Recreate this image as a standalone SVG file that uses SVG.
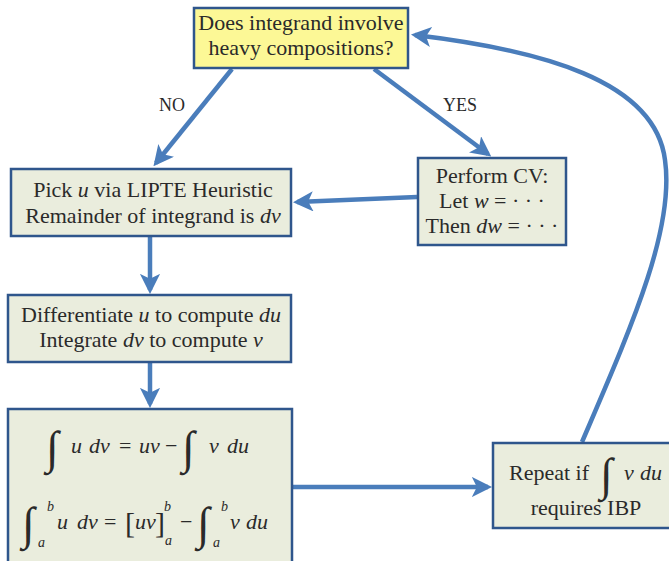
<svg xmlns="http://www.w3.org/2000/svg" width="669" height="561" viewBox="0 0 669 561">
<style>
text{font-family:"Liberation Serif","DejaVu Serif",serif;font-size:22px;fill:#2a2a2a;}
.c{text-anchor:middle;}
.i{font-style:italic;}
.box{fill:#eaeddd;stroke:#2f568c;stroke-width:2.5;}
.q{fill:#fcf896;stroke:#2f568c;stroke-width:2.5;}
.e{fill:none;stroke:#4a7dbb;stroke-width:4.5;}
.lbl{font-size:18px;}
.int{font-size:46px;font-style:italic;}
.lim{font-size:14px;font-style:italic;}
.br{font-size:30px;}
</style>
<defs>
<marker id="ah" viewBox="0 0 10 10" refX="8" refY="5" markerWidth="4.5" markerHeight="4.5" orient="auto" markerUnits="strokeWidth">
<path d="M0,0 L10,5 L0,10 L2.5,5 Z" fill="#4a7dbb"/>
</marker>
</defs>
<g id="connectors">
<path class="e" d="M232,69 L156,163" marker-end="url(#ah)"/>
<path class="e" d="M374,69 L488,154" marker-end="url(#ah)"/>
<path class="e" d="M417,197 L297,202" marker-end="url(#ah)"/>
<path class="e" d="M150,237 L150,290" marker-end="url(#ah)"/>
<path class="e" d="M150,363 L150,404" marker-end="url(#ah)"/>
<path class="e" d="M293,487 L488,487" marker-end="url(#ah)"/>
<path class="e" d="M582,442 C630,330 675,230 665,160 C655,80 540,50 415,35" marker-end="url(#ah)"/>
<text class="lbl c" x="172" y="111">NO</text>
<text class="lbl c" x="460" y="111">YES</text>
</g>
<g id="n-question">
<rect class="q" x="194" y="8" width="214" height="60"/>
<text class="c" x="301" y="30">Does integrand involve</text>
<text class="c" x="301" y="55">heavy compositions?</text>
</g>
<g id="n-pick">
<rect class="box" x="11" y="169" width="280" height="67"/>
<text class="c" x="153" y="197">Pick <tspan class="i">u</tspan> via LIPTE Heuristic</text>
<text class="c" x="153" y="223">Remainder of integrand is <tspan class="i">dv</tspan></text>
</g>
<g id="n-cv">
<rect class="box" x="418" y="158" width="148" height="87"/>
<text class="c" x="492" y="183">Perform CV:</text>
<text class="c" x="492" y="208">Let <tspan class="i">w</tspan> = · · ·</text>
<text class="c" x="492" y="233">Then <tspan class="i">dw</tspan> = · · ·</text>
</g>
<g id="n-diff">
<rect class="box" x="8" y="295" width="283" height="67"/>
<text class="c" x="151" y="322">Differentiate <tspan class="i">u</tspan> to compute <tspan class="i">du</tspan></text>
<text class="c" x="151" y="347">Integrate <tspan class="i">dv</tspan> to compute <tspan class="i">v</tspan></text>
</g>
<g id="n-formula">
<rect class="box" x="8" y="409" width="284" height="160"/>
<text class="int" x="46" y="463">∫</text>
<text class="i" x="71" y="453">u</text>
<text class="i" x="89" y="453">dv</text>
<text x="119" y="453">=</text>
<text class="i" x="139" y="453">uv</text>
<text x="165" y="453">−</text>
<text class="int" x="182" y="463">∫</text>
<text class="i" x="209" y="453">v</text>
<text class="i" x="227" y="453">du</text>
<text class="int" x="22" y="539">∫</text>
<text class="lim" x="47" y="511">b</text>
<text class="lim" x="38" y="547">a</text>
<text class="i" x="57" y="529">u</text>
<text class="i" x="77" y="529">dv</text>
<text x="104" y="529">=</text>
<text class="br" x="125" y="533">[</text>
<text class="i" x="135" y="529">uv</text>
<text class="br" x="155" y="533">]</text>
<text class="lim" x="164" y="511">b</text>
<text class="lim" x="165" y="545">a</text>
<text x="180" y="529">−</text>
<text class="int" x="197" y="539">∫</text>
<text class="lim" x="221" y="511">b</text>
<text class="lim" x="213" y="547">a</text>
<text class="i" x="230" y="529">v</text>
<text class="i" x="246" y="529">du</text>
</g>
<g id="n-repeat">
<rect class="box" x="493" y="443" width="180" height="85"/>
<text x="509" y="480">Repeat if</text>
<text class="int" x="600" y="490">∫</text>
<text class="i" x="624" y="480">v</text>
<text class="i" x="640" y="480">du</text>
<text class="c" x="586" y="515">requires IBP</text>
</g>
</svg>
